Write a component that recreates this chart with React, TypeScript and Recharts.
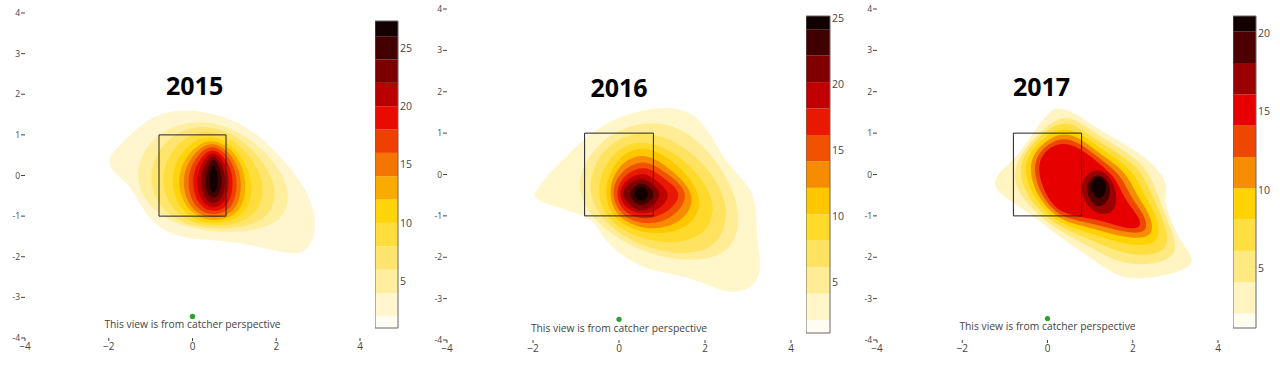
import React from 'react';
import { ScatterChart, Scatter, XAxis, YAxis, ReferenceArea } from 'recharts';

type Pt = [number, number];

const FONT = '"Open Sans", verdana, arial, sans-serif';

const xTicks = [-4, -2, 0, 2, 4];
const yTicks = [-4, -3, -2, -1, 0, 1, 2, 3, 4];
const strikeZone: Pt[] = [[-0.8, -1], [-0.8, 1], [0.8, 1], [0.8, -1]];
const note = 'This view is from catcher perspective';

// ---- 2015 ----
const levels2015 = [2, 4, 6, 8, 10, 12, 14, 16, 18, 20, 22, 24, 26];
const zRange2015: Pt = [1, 27.3];
const cbTicks2015 = [5, 10, 15, 20, 25];
const titlePos2015: Pt = [0.05, 2.23];
const dotPos2015: Pt = [0, -3.47];
const notePos2015: Pt = [0, -3.66];
const contours2015: Pt[][] = [
  [[-2.05, 0.42], [-1.66, 0.84], [-1.06, 1.42], [-0.42, 1.63], [0.3, 1.58], [1.18, 1.32], [1.92, 0.68], [2.47, 0.02], [2.86, -0.6], [2.98, -1.36], [2.7, -2.0], [1.98, -1.86], [1.13, -1.64], [0.17, -1.58], [-0.58, -1.46], [-1.14, -0.98], [-1.45, -0.26], [-1.94, 0.1]],
  [[0.2, 1.46], [1.4, 1.0], [2.42, -0.18], [2.2, -1.32], [0.5, -1.46], [-0.85, -1.08], [-1.48, -0.08], [-1.0, 1.04]],
  [[0.28, 1.33], [1.28, 0.9], [2.1, -0.2], [1.85, -1.2], [0.45, -1.38], [-0.62, -1.08], [-1.14, -0.13], [-0.7, 0.95]],
  [[0.36, 1.2], [1.16, 0.8], [1.8, -0.15], [1.55, -1.1], [0.46, -1.31], [-0.42, -1.02], [-0.84, -0.13], [-0.42, 0.84]],
  [[0.42, 1.06], [1.06, 0.7], [1.49, -0.11], [1.32, -1.03], [0.47, -1.24], [-0.26, -0.98], [-0.59, -0.11], [-0.22, 0.72]],
  [[0.45, 0.95], [1.01, 0.63], [1.33, -0.09], [1.19, -0.96], [0.49, -1.17], [-0.14, -0.92], [-0.42, -0.09], [-0.08, 0.63]],
  [[0.46, 0.87], [0.94, 0.56], [1.21, -0.07], [1.09, -0.89], [0.5, -1.1], [-0.08, -0.87], [-0.29, -0.07], [0.01, 0.56]],
  [[0.47, 0.79], [0.87, 0.5], [1.1, -0.07], [1.0, -0.82], [0.5, -1.02], [0.01, -0.8], [-0.16, -0.07], [0.09, 0.5]],
  [[0.48, 0.71], [0.81, 0.43], [1.0, -0.07], [0.9, -0.74], [0.5, -0.94], [0.1, -0.72], [-0.04, -0.07], [0.17, 0.43]],
  [[0.49, 0.63], [0.75, 0.37], [0.9, -0.07], [0.81, -0.65], [0.5, -0.85], [0.18, -0.64], [0.07, -0.07], [0.24, 0.37]],
  [[0.49, 0.55], [0.69, 0.31], [0.81, -0.07], [0.74, -0.55], [0.5, -0.74], [0.26, -0.55], [0.17, -0.07], [0.31, 0.31]],
  [[0.5, 0.46], [0.63, 0.25], [0.72, -0.07], [0.67, -0.44], [0.5, -0.6], [0.33, -0.44], [0.28, -0.07], [0.38, 0.25]],
  [[0.5, 0.32], [0.57, 0.14], [0.62, -0.08], [0.59, -0.33], [0.5, -0.46], [0.41, -0.33], [0.38, -0.08], [0.43, 0.14]],
];

// ---- 2016 ----
const levels2016 = [2.15, 4.15, 6.15, 8.15, 10.15, 12.15, 14.15, 16.15, 18.15, 20.15, 22.15, 24.15];
const zRange2016: Pt = [1.17, 25.15];
const cbTicks2016 = [5, 10, 15, 20, 25];
const titlePos2016: Pt = [0, 2.12];
const dotPos2016: Pt = [0, -3.5];
const notePos2016: Pt = [0, -3.7];
const contours2016: Pt[][] = [
  [[-2.06, -0.48], [-1.88, -0.66], [-1.15, -0.87], [-0.56, -1.1], [-0.4, -1.5], [0.0, -1.92], [0.64, -2.32], [1.42, -2.42], [2.04, -2.66], [2.52, -2.86], [3.02, -2.82], [3.36, -2.36], [3.2, -1.69], [3.2, -0.72], [3.04, -0.28], [2.42, 0.36], [1.95, 1.35], [1.36, 1.64], [0.65, 1.6], [-0.38, 1.28], [-1.33, 0.36]],
  [[0.8, 1.38], [1.85, 0.95], [2.88, -0.55], [2.75, -2.0], [1.3, -2.15], [-0.15, -1.6], [-1.2, -0.38], [-0.45, 0.95]],
  [[0.65, 1.12], [1.7, 0.62], [2.62, -0.55], [2.4, -1.85], [1.1, -1.98], [-0.2, -1.4], [-0.85, -0.4], [-0.35, 0.78]],
  [[0.6, 0.9], [1.55, 0.4], [2.32, -0.6], [2.05, -1.55], [0.95, -1.72], [-0.18, -1.28], [-0.6, -0.45], [-0.2, 0.58]],
  [[0.6, 0.75], [1.4, 0.25], [2.0, -0.55], [1.7, -1.3], [0.8, -1.5], [-0.12, -1.17], [-0.4, -0.4], [-0.05, 0.45]],
  [[0.6, 0.57], [1.25, 0.1], [1.83, -0.5], [1.5, -1.18], [0.7, -1.38], [-0.06, -1.08], [-0.28, -0.4], [0.0, 0.28]],
  [[0.62, 0.4], [1.15, 0.0], [1.68, -0.45], [1.3, -1.05], [0.65, -1.25], [0.0, -1.0], [-0.2, -0.4], [0.05, 0.12]],
  [[0.62, 0.25], [1.05, -0.1], [1.52, -0.45], [1.15, -0.93], [0.6, -1.12], [0.08, -0.92], [-0.1, -0.45], [0.1, 0.0]],
  [[0.58, 0.08], [0.92, -0.18], [1.22, -0.47], [0.98, -0.84], [0.55, -1.0], [0.15, -0.82], [-0.03, -0.47], [0.15, -0.12]],
  [[0.55, -0.05], [0.8, -0.24], [1.0, -0.47], [0.82, -0.76], [0.52, -0.92], [0.22, -0.74], [0.05, -0.47], [0.22, -0.2]],
  [[0.52, -0.18], [0.7, -0.3], [0.86, -0.47], [0.72, -0.66], [0.52, -0.78], [0.32, -0.66], [0.22, -0.47], [0.34, -0.28]],
  [[0.52, -0.28], [0.63, -0.35], [0.7, -0.47], [0.63, -0.59], [0.52, -0.66], [0.41, -0.59], [0.34, -0.47], [0.41, -0.35]],
];

// ---- 2017 ----
const levels2017 = [2.1, 4.1, 6.1, 8.1, 10.1, 12.1, 14.1, 16.1, 18.1, 20.1];
const zRange2017: Pt = [1.18, 21.1];
const cbTicks2017 = [5, 10, 15, 20];
const titlePos2017: Pt = [-0.14, 2.15];
const dotPos2017: Pt = [0, -3.48];
const notePos2017: Pt = [0, -3.67];
const contours2017: Pt[][] = [
  [[0.05, 1.52], [0.22, 1.64], [0.64, 1.5], [1.18, 1.1], [1.75, 0.78], [2.4, 0.36], [2.86, -0.24], [2.72, -0.62], [2.86, -0.98], [3.02, -1.44], [3.3, -1.84], [3.48, -2.18], [2.9, -2.42], [2.4, -2.5], [1.86, -2.54], [1.42, -2.32], [0.82, -1.88], [0.18, -1.44], [-0.3, -1.02], [-0.92, -0.62], [-1.32, -0.26], [-1.12, 0.08], [-0.7, 0.43], [-0.3, 1.08]],
  [[0.2, 1.48], [0.7, 1.32], [1.25, 0.9], [2.28, 0.3], [2.56, -0.4], [2.8, -1.1], [3.22, -2.08], [1.85, -2.26], [1.1, -1.8], [0.3, -1.4], [-0.48, -0.77], [-1.02, 0.12]],
  [[0.2, 1.34], [0.7, 1.18], [1.25, 0.76], [2.14, 0.22], [2.4, -0.4], [2.7, -1.0], [2.96, -1.94], [1.85, -1.98], [1.1, -1.6], [0.3, -1.31], [-0.4, -0.71], [-0.84, 0.28]],
  [[0.2, 1.18], [0.7, 1.06], [1.25, 0.62], [2.0, 0.14], [2.24, -0.46], [2.56, -0.96], [2.7, -1.72], [1.85, -1.72], [1.1, -1.44], [0.3, -1.22], [-0.32, -0.65], [-0.68, 0.36]],
  [[0.2, 1.04], [0.7, 0.94], [1.25, 0.48], [1.86, 0.06], [2.08, -0.5], [2.42, -0.96], [2.52, -1.54], [1.85, -1.55], [1.1, -1.3], [0.3, -1.14], [-0.24, -0.59], [-0.54, 0.38]],
  [[0.2, 0.92], [0.7, 0.82], [1.25, 0.36], [1.74, -0.02], [1.94, -0.54], [2.3, -1.0], [2.36, -1.42], [1.85, -1.42], [1.1, -1.18], [0.3, -1.06], [-0.16, -0.53], [-0.42, 0.36]],
  [[0.2, 0.8], [0.7, 0.7], [1.25, 0.24], [1.62, -0.1], [1.8, -0.6], [2.2, -1.08], [2.18, -1.32], [1.78, -1.3], [1.15, -1.06], [0.3, -0.98], [-0.08, -0.46], [-0.3, 0.33]],
  [[1.1, 0.18], [1.45, 0.0], [1.62, -0.4], [1.62, -0.8], [1.4, -1.0], [1.05, -0.9], [0.8, -0.55], [0.78, -0.15]],
  [[1.15, 0.06], [1.42, -0.12], [1.5, -0.45], [1.36, -0.74], [1.15, -0.8], [0.97, -0.6], [0.88, -0.25]],
  [[1.2, 0.0], [1.4, -0.2], [1.36, -0.48], [1.2, -0.62], [1.04, -0.44], [1.0, -0.18]],
];

// reversed plotly "Hot" colour scale
const hotStops = [
  [0, 255, 255, 255],
  [0.4, 255, 210, 0],
  [0.7, 230, 0, 0],
  [1, 0, 0, 0],
];
const hotR = (t: number) => {
  const c = Math.max(0, Math.min(1, t));
  for (let i = 1; i < hotStops.length; i++) {
    const [t1, r1, g1, b1] = hotStops[i];
    const [t0, r0, g0, b0] = hotStops[i - 1];
    if (c <= t1) {
      const f = (c - t0) / (t1 - t0);
      return `rgb(${Math.round(r0 + (r1 - r0) * f)},${Math.round(g0 + (g1 - g0) * f)},${Math.round(b0 + (b1 - b0) * f)})`;
    }
  }
  return 'rgb(0,0,0)';
};
const bandColor = (lo: number, hi: number, z: Pt) => hotR(((lo + hi) / 2 - z[0]) / (z[1] - z[0]));

const panels = [
  {
    year: '2015', levels: levels2015, zRange: zRange2015, cbTicks: cbTicks2015, contours: contours2015,
    titlePos: titlePos2015, dotPos: dotPos2015, notePos: notePos2015,
    box: { left: 0, width: 370, margin: { top: 13, right: 10, bottom: 0, left: 0 }, yw: 25, xh: 30 },
    cb: { left: 375, width: 48, yw: 25, top: 21, bottom: 40 },
  },
  {
    year: '2016', levels: levels2016, zRange: zRange2016, cbTicks: cbTicks2016, contours: contours2016,
    titlePos: titlePos2016, dotPos: dotPos2016, notePos: notePos2016,
    box: { left: 420, width: 380, margin: { top: 9, right: 9, bottom: 0, left: 0 }, yw: 27, xh: 28 },
    cb: { left: 806, width: 49, yw: 25, top: 16, bottom: 35 },
  },
  {
    year: '2017', levels: levels2017, zRange: zRange2017, cbTicks: cbTicks2017, contours: contours2017,
    titlePos: titlePos2017, dotPos: dotPos2017, notePos: notePos2017,
    box: { left: 850, width: 378, margin: { top: 9, right: 10, bottom: 0, left: 0 }, yw: 27, xh: 28 },
    cb: { left: 1233, width: 48, yw: 25, top: 16, bottom: 40 },
  },
];

const toPts = (ring: Pt[]) => ring.map(([x, y]) => ({ x, y }));
const fmtX = (v: number) => (v < 0 ? '\u2212' + Math.abs(v) : String(v));
const fmtY = (v: number) => String(v);

const Hidden = () => <g />;
const GreenDot = (p: any) => <circle cx={p.cx} cy={p.cy} r={2.6} fill="#2ca02c" />;
const TitleText = (p: any) => (
  <text x={p.cx} y={p.cy} textAnchor="middle" dominantBaseline="central" fontFamily={FONT} fontWeight={700} fontSize={25} fill="#000">
    {p.payload.label}
  </text>
);
const NoteText = (p: any) => (
  <text x={p.cx} y={p.cy} textAnchor="middle" dominantBaseline="central" fontFamily={FONT} fontSize={10.3} fill="#444">
    {p.payload.label}
  </text>
);

const Heatmap = ({ cfg }: { cfg: (typeof panels)[number] }) => {
  const { levels, zRange, contours, box } = cfg;
  return (
    <div style={{ position: 'absolute', left: box.left, top: 0 }}>
      <ScatterChart width={box.width} height={368} margin={box.margin}>
        <XAxis
          type="number" dataKey="x" domain={[-4, 4]} ticks={xTicks} interval={0} allowDataOverflow
          height={box.xh} axisLine={false} tickSize={3} tickMargin={2} tickFormatter={fmtX}
          tickLine={{ stroke: '#444' }} tick={{ fontSize: 10, fill: '#444', fontFamily: FONT }}
        />
        <YAxis
          type="number" dataKey="y" domain={[-4, 4]} ticks={yTicks} interval={0} allowDataOverflow
          width={box.yw} axisLine={false} tickSize={4} tickMargin={1} tickFormatter={fmtY}
          tickLine={{ stroke: '#444' }} tick={{ fontSize: 8.5, fill: '#444', fontFamily: FONT }}
        />
        {contours.map((ring, i) => (
          <Scatter
            key={i}
            data={toPts(ring)}
            line={{ fill: bandColor(levels[i], levels[i + 1] ?? zRange[1], zRange), stroke: 'none' }}
            lineJointType="basisClosed"
            shape={Hidden}
            isAnimationActive={false}
          />
        ))}
        <Scatter
          data={toPts(strikeZone)}
          line={{ fill: 'none', stroke: '#222', strokeWidth: 1 }}
          lineJointType="linearClosed"
          shape={Hidden}
          isAnimationActive={false}
        />
        <Scatter data={[{ x: cfg.dotPos[0], y: cfg.dotPos[1] }]} shape={GreenDot} isAnimationActive={false} />
        <Scatter data={[{ x: cfg.titlePos[0], y: cfg.titlePos[1], label: cfg.year }]} shape={TitleText} isAnimationActive={false} />
        <Scatter data={[{ x: cfg.notePos[0], y: cfg.notePos[1], label: note }]} shape={NoteText} isAnimationActive={false} />
      </ScatterChart>
    </div>
  );
};

const ColorBar = ({ cfg }: { cfg: (typeof panels)[number] }) => {
  const { levels, zRange, cbTicks, cb } = cfg;
  const edges = [zRange[0], ...levels, zRange[1]];
  return (
    <div style={{ position: 'absolute', left: cb.left, top: 0 }}>
      <ScatterChart width={cb.width} height={368} margin={{ top: cb.top, bottom: cb.bottom, left: 0, right: 0 }}>
        <XAxis type="number" dataKey="x" domain={[0, 1]} hide allowDataOverflow />
        <YAxis
          type="number" dataKey="y" orientation="right" domain={zRange} ticks={cbTicks} interval={0} allowDataOverflow
          width={cb.yw} axisLine={false} tickLine={false} tickSize={0} tickMargin={2}
          tick={{ fontSize: 10.5, fill: '#444', fontFamily: FONT }}
        />
        <Scatter data={[{ x: 0, y: zRange[0] }, { x: 1, y: zRange[1] }]} shape={Hidden} isAnimationActive={false} />
        {edges.slice(0, -1).map((lo, i) => (
          <ReferenceArea
            key={i} x1={0} x2={1} y1={lo} y2={edges[i + 1]}
            fill={bandColor(lo, edges[i + 1], zRange)} fillOpacity={1} stroke="none"
          />
        ))}
        <ReferenceArea x1={0} x2={1} y1={zRange[0]} y2={zRange[1]} fill="none" stroke="#666" strokeWidth={1} />
      </ScatterChart>
    </div>
  );
};

export default function App() {
  return (
    <div style={{ position: 'absolute', left: 0, top: 0, width: 1280, height: 368, background: '#fff' }}>
      {panels.map((p) => (
        <React.Fragment key={p.year}>
          <Heatmap cfg={p} />
          <ColorBar cfg={p} />
        </React.Fragment>
      ))}
    </div>
  );
}
